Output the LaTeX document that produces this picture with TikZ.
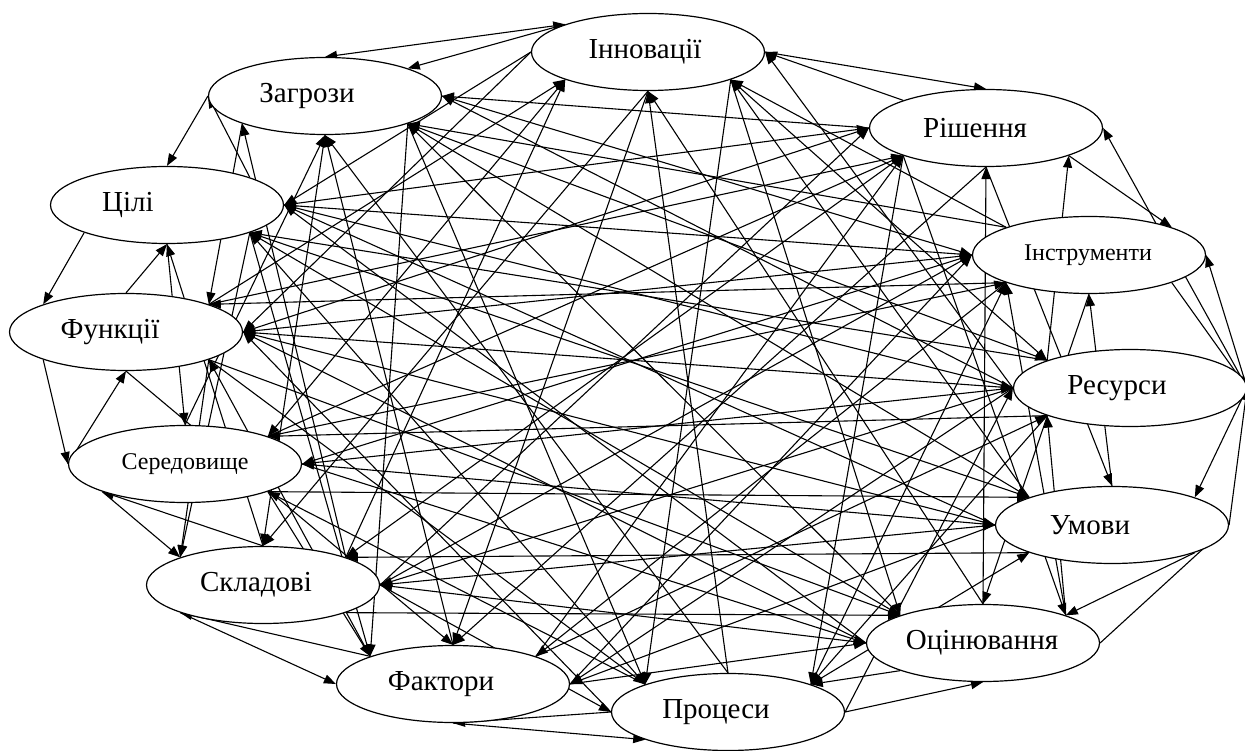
\documentclass[tikz,border=0pt]{standalone}
\usepackage{fontspec}
\setmainfont{Liberation Serif}
\usetikzlibrary{shapes.geometric,arrows.meta}
\pgfdeclarelayer{bg}
\pgfsetlayers{bg,main}
\newcommand\portof[1]{\ifcase#1 east\or north east\or north\or north west\or west\or south west\or south\or south east\or east\fi}
\newcommand\edg[3]{%
  \pgfmathanglebetweenpoints{\pgfpointanchor{#2}{center}}{\pgfpointanchor{#3}{center}}%
  \let\angAB\pgfmathresult
  \pgfmathanglebetweenpoints{\pgfpointanchor{#3}{center}}{\pgfpointanchor{#2}{center}}%
  \let\angBA\pgfmathresult
  \ifnum#1=0
    \pgfmathtruncatemacro\iA{mod(round(\angAB/45),8)}%
    \pgfmathtruncatemacro\iB{mod(round(\angBA/45),8)}%
  \else
    \pgfmathtruncatemacro\iA{mod(2*floor(\angAB/45)+1-round(\angAB/45),8)}%
    \pgfmathtruncatemacro\iB{mod(2*floor(\angBA/45)+1-round(\angBA/45),8)}%
  \fi
  \edef\pA{\portof{\iA}}\edef\pB{\portof{\iB}}%
  \draw[arr] (#2.\pA) -- (#3.\pB);%
}
\begin{document}
\begin{tikzpicture}[x=1pt,y=-1pt,
  ell/.style={draw,ellipse,line width=1.2pt,minimum width=233pt,minimum height=77pt,inner sep=0pt,fill=white},
  lbl/.style={inner sep=0pt,font=\fontsize{29}{32}\selectfont},
  lbls/.style={inner sep=0pt,font=\fontsize{24}{28}\selectfont},
  arr/.style={line width=1.1pt,-{Triangle[length=12pt,width=9pt]}},
  arrb/.style={line width=1.1pt,{Triangle[length=12pt,width=9pt]}-{Triangle[length=12pt,width=9pt]}}]
\useasboundingbox (0,0) rectangle (1245,751);
\node[ell] (n0)  at (648,52)  {};
\node[ell] (n1)  at (986,128) {};
\node[ell] (n2)  at (1089,255) {};
\node[ell] (n3)  at (1130,388) {};
\node[ell] (n4)  at (1112,525) {};
\node[ell] (n5)  at (983,643) {};
\node[ell] (n6)  at (728,712) {};
\node[ell] (n7)  at (453,684) {};
\node[ell] (n8)  at (263,585) {};
\node[ell] (n9)  at (185,464) {};
\node[ell] (n10) at (126,332) {};
\node[ell] (n11) at (167,205) {};
\node[ell] (n12) at (325,96)  {};
\node[lbl]  (l0)  at ([xshift=-3pt]n0.center)  {Інновації};
\node[lbl]  (l1)  at ([xshift=-11pt]n1.center) {Рішення};
\node[lbls] (l2)  at ([xshift=-1pt]n2.center)  {Інструменти};
\node[lbl]  (l3)  at ([xshift=-13pt]n3.center) {Ресурси};
\node[lbl]  (l4)  at ([xshift=-22pt]n4.center) {Умови};
\node[lbl]  (l5)  at ([xshift=-1pt]n5.center)  {Оцінювання};
\node[lbl]  (l6)  at ([xshift=-12pt]n6.center) {Процеси};
\node[lbl]  (l7)  at ([xshift=-12pt]n7.center) {Фактори};
\node[lbl]  (l8)  at ([xshift=-7pt]n8.center)  {Складові};
\node[lbls] (l9)  at (n9.center)               {Середовище};
\node[lbl]  (l10) at ([xshift=-16pt]n10.center) {Функції};
\node[lbl]  (l11) at ([xshift=-39pt]n11.center) {Цілі};
\node[lbl]  (l12) at ([xshift=-18pt]n12.center) {Загрози};
\begin{pgfonlayer}{bg}
% interior edges
\foreach \i in {0,...,10}{
  \pgfmathtruncatemacro\js{\i+2}
  \foreach \j in {\js,...,12}{
    \pgfmathtruncatemacro\dd{\j-\i}
    \ifnum\dd<12
      \pgfmathtruncatemacro\pp{mod(\i+\j,2)}
      \ifnum\pp=1 \edg{0}{n\i}{n\j}\else\edg{0}{n\j}{n\i}\fi
      \pgfmathtruncatemacro\qq{mod(\i+2*\j,5)}
      \ifnum\dd>2 \ifnum\dd<11
        \ifnum\qq<3 \ifnum\pp=1 \edg{1}{n\j}{n\i}\else\edg{1}{n\i}{n\j}\fi\fi
      \fi\fi
    \fi
  }
}
% perimeter edges
\draw[arr] (n12.west) -- (n11.north);
\draw[arr] (n11.north east) -- (n12.west);
\draw[arrb] (n12.north) -- (n0.north west);
\draw[arr] (n0.north west) -- (n12.north east);
\draw[arr] (n0.east) -- (n1.north);
\draw[arr] (n1.north west) -- (n0.east);
\draw[arr] (n1.south east) -- (n2.north east);
\draw[arr] (n3.east) -- (n1.east);
\draw[arr] (n3.east) -- (n2.east);
\draw[arr] (n2.south east) -- (n3.east);
\draw[arr] (n3.east) -- (n4.north east);
\draw[arr] (n4.east) -- (n3.east);
\draw[arr] (n4.south east) -- (n5.north east);
\draw[arr] (n5.east) -- (n4.east);
\draw[arr] (n6.east) -- (n5.south);
\draw[arr] (n5.south west) -- (n6.north east);
\draw[arr] (n6.west) -- (n7.south);
\draw[arr] (n7.south) -- (n6.south west);
\draw[arr] (n7.north west) -- (n8.south west);
\draw[arr] (n8.south west) -- (n7.west);
\draw[arr] (n9.south west) -- (n8.north west);
\draw[arr] (n8.north) -- (n9.south west);
\draw[arr] (n10.south west) -- (n9.west);
\draw[arr] (n9.west) -- (n10.south);
\draw[arr] (n11.south west) -- (n10.north west);
\draw[arr] (n10.north) -- (n11.south);
\end{pgfonlayer}
\end{tikzpicture}
\end{document}
